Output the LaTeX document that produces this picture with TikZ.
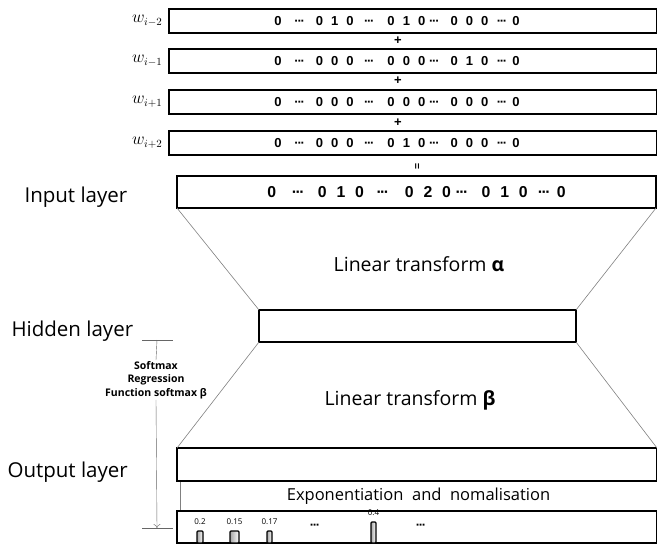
\documentclass[tikz,border=0pt]{standalone}
\usepackage{fontspec}
\setsansfont{Open Sans}
\newfontfamily\numfont{Liberation Sans}
\usetikzlibrary{arrows.meta}

\newcommand{\dd}{·\kern-0.1em·\kern-0.1em·}
\newcommand{\tri}[3]{#1\hspace{0.62em}#2\hspace{0.62em}#3}
\newcommand{\onehot}[3]{0\hspace{1em}\dd\hspace{0.85em}#1\hspace{0.8em}\dd\hspace{1em}#2\hspace{0.3em}\dd\hspace{0.85em}#3\hspace{0.65em}\dd\hspace{0.4em}0}

\begin{document}
\begin{tikzpicture}[x=1pt,y=-1pt,
    layerbox/.style={draw,line width=1.6pt,inner sep=0pt,outer sep=0pt},
    proj/.style={draw=gray,line width=0.6pt},
    digits/.style={font=\numfont\bfseries\fontsize{13}{13}\selectfont},
    lbl/.style={font=\sffamily\fontsize{20.5}{20.5}\selectfont,anchor=west},
    mid/.style={font=\sffamily\fontsize{19.5}{19.5}\selectfont},
    bar/.style={draw,line width=1.2pt,rounded corners=1pt,left color=gray!70,right color=white},
    prob/.style={font=\sffamily\fontsize{8}{8}\selectfont}]
    \useasboundingbox (0,0) rectangle (657,544);
    % context words, one-hot
    \foreach \n/\y/\w/\a/\b/\c in {1/21/{i-2}/{\tri010}/{\tri010}/{\tri000},
            2/61/{i-1}/{\tri000}/{\tri000}/{\tri010},
            3/102/{i+1}/{\tri000}/{\tri000}/{\tri000},
            4/143/{i+2}/{\tri000}/{\tri010}/{\tri000}}{
        \node[layerbox,minimum width=488pt,minimum height=24pt] (w\n) at (413,\y) {};
        \node[digits] (v\n) at (397,\y) {\onehot{\a}{\b}{\c}};
        \node[anchor=east,font=\fontsize{16}{16}\selectfont] (wl\n) at (166,\y) {$w_{\w}$};
    }
    \node[digits] (p1) at (398,41) {+};
    \node[digits] (p2) at (398,81) {+};
    \node[digits] (p3) at (398,123) {+};
    \node[digits,rotate=90,scale=0.8] (eq) at (418,166) {=};
    % layers
    \node[layerbox,minimum width=479pt,minimum height=32pt,
        font=\numfont\bfseries\fontsize{15.8}{16}\selectfont] (inp) at (416.5,192)
        {\onehot{\tri010}{\tri020}{\tri010}};
    \node[layerbox,minimum width=317pt,minimum height=32pt] (hid) at (417.5,326) {};
    \node[draw=gray,line width=0.8pt,inner sep=0pt,outer sep=0pt,minimum width=477pt,
        minimum height=30pt,anchor=north,font=\sffamily\fontsize{16.5}{16.5}\selectfont]
        (expo) at (418.5,481) {Exponentiation\ \ and\ \ nomalisation};
    \node[layerbox,minimum width=480pt,minimum height=33pt] (out) at (417,464.5) {};
    \node[layerbox,minimum width=480pt,minimum height=32pt,anchor=north] (soft) at (417,511) {};
    \node[lbl] (inl) at (21,197) {Input layer};
    \node[lbl] (hidl) at (8,331) {Hidden layer};
    \node[lbl] (outl) at (4,472) {Output layer};
    \node[mid] (la) at (419,264) {Linear transform {\bfseries α}};
    \node[mid] (lb) at (410,400) {Linear transform {\bfseries β}};
    \draw[proj] (inp.south west) -- (hid.north west);
    \draw[proj] (inp.south east) -- (hid.north east);
    \draw[proj] (hid.south west) -- (out.north west);
    \draw[proj] (hid.south east) -- (out.north east);
    % softmax
    \coordinate (t1) at (157,340);
    \coordinate (t2) at (157,528);
    \node[font=\sffamily\bfseries\fontsize{10.5}{13.5}\selectfont,align=center,inner sep=1pt]
        (smx) at (156,380) {Softmax\\Regression\\Function softmax β};
    \draw[gray!80!black] ([xshift=-15pt]t1) -- ([xshift=16pt]t1);
    \draw[gray!80!black] ([xshift=-15pt]t2) -- ([xshift=16pt]t2);
    \draw[gray!80!black] (t1) -- (smx.north);
    \draw[gray!80!black,-{To[length=4pt,width=7pt]}] (smx.south) -- (t2);
    % probabilities
    \foreach \x/\w/\h/\v in {200/6/12/0.2, 234.5/9/12/0.15, 269.5/5/12/0.17, 373.5/5/21/0.4}{
        \draw[bar] (\x-\w/2,543) rectangle (\x+\w/2,543-\h);
        \node[prob,anchor=south] at (\x,540-\h) {\v};
    }
    \node[digits] (d1) at (315,527) {\dd};
    \node[digits] (d2) at (421,527) {\dd};
\end{tikzpicture}
\end{document}
